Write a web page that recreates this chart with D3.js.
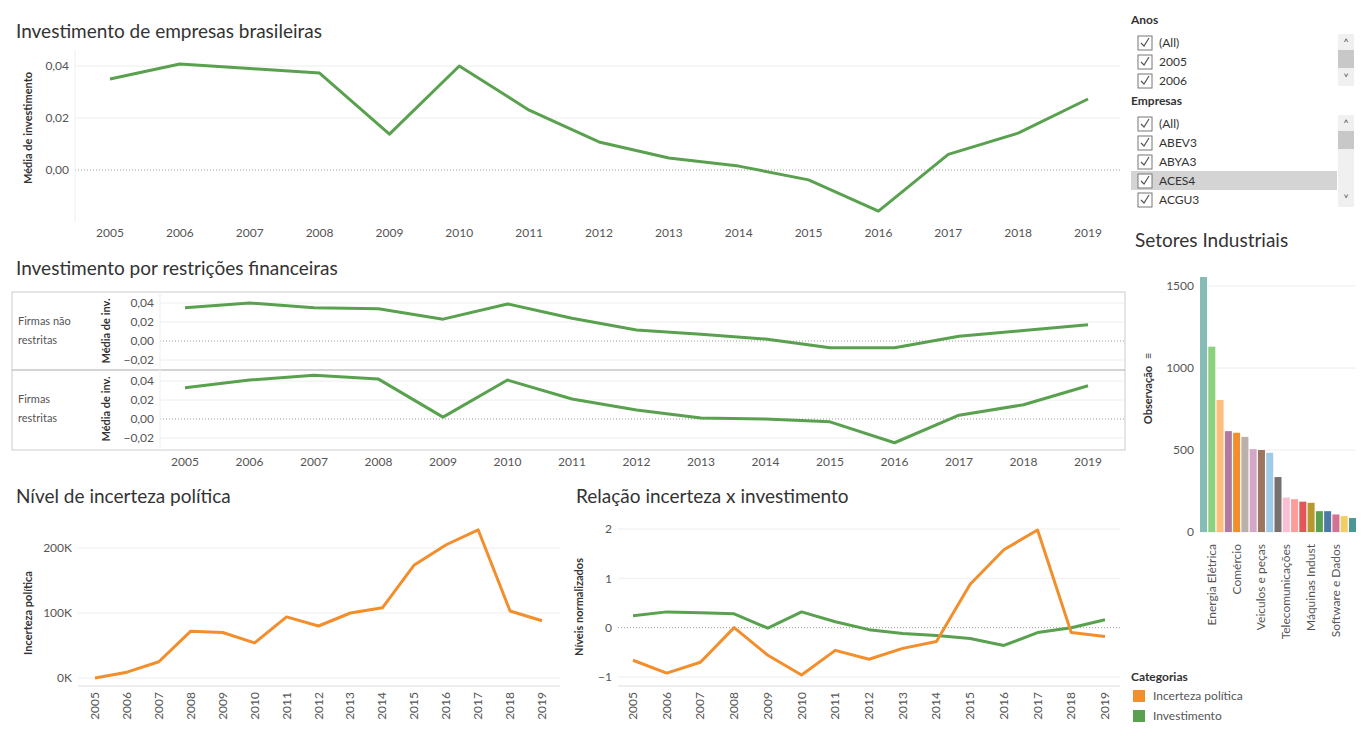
<!DOCTYPE html>
<html><head><meta charset="utf-8">
<script src="https://cdn.jsdelivr.net/npm/d3@7"></script>
<style>
body{margin:0;background:#fff;font-family:Lato,"Open Sans",sans-serif;}
text{fill:#555;}
</style></head><body>
<script>
var years = ["2005","2006","2007","2008","2009","2010","2011","2012","2013","2014","2015","2016","2017","2018","2019"];
var investimento = [0.035,0.0408,0.039,0.0373,0.0138,0.040,0.023,0.0108,0.0046,0.0015,-0.0038,-0.0158,0.006,0.0142,0.0273];
var naoRestritas = [0.035,0.040,0.035,0.034,0.023,0.039,0.024,0.0116,0.007,0.002,-0.007,-0.007,0.005,0.011,0.017];
var restritas = [0.033,0.041,0.046,0.042,0.002,0.041,0.021,0.0095,0.001,0,-0.003,-0.025,0.004,0.015,0.035];
var incerteza = [0,9000,25000,72000,70000,54000,94000,80000,100000,108000,174000,205000,228000,103000,88000];
var incertezaNorm = [-0.66,-0.92,-0.7,0,-0.56,-0.96,-0.46,-0.64,-0.42,-0.28,0.88,1.58,1.98,-0.1,-0.18];
var investNorm = [0.24,0.32,0.3,0.28,-0.01,0.32,0.12,-0.04,-0.12,-0.16,-0.22,-0.36,-0.1,0,0.16];
var setores = ["Outros","Energia Elétrica","Construção","Química","Comércio","Alimentos e Beb","Textil","Veiculos e peças","Siderur & Metalur","Transporte Serviç","Telecomunicações","Mineração","Papel e Celulose","Máquinas Indust","Petróleo e Gas","Eletroeletrônicos","Software e Dados","Agro e Pesca","Minerais não Met"];
var observacoes = [1555,1130,805,615,605,580,505,500,483,335,210,200,185,178,127,127,107,97,85];
var barColors = ["#86bcb6","#8cd17d","#ffbe7d","#b07aa1","#f28e2b","#bab0ac","#d4a6c8","#9d7660","#a0cbe8","#79706e","#fabfd2","#ff9d9a","#e15759","#b6992d","#59a14f","#4e79a7","#d37295","#f1ce63","#499894"];
var GREEN = "#59a14f", ORANGE = "#f28e2b";

var svg = d3.select("body").append("svg").attr("width",1366).attr("height",737)
  .style("font-family","Lato,'Open Sans',sans-serif");

function title(x, y, t, size){
  svg.append("text").attr("x",x).attr("y",y).text(t).style("font-size",(size||19)+"px").style("fill","#333");
}
function yTitle(x, y, t){
  svg.append("text").attr("transform",`translate(${x},${y}) rotate(-90)`).attr("text-anchor","middle")
    .text(t).style("font-size","11px").style("font-weight","bold").style("fill","#333");
}

// generic y axis + grid
function drawY(y, x0, x1, ticks, fmt, zeroDotted){
  var g = svg.append("g");
  ticks.forEach(function(t){
    g.append("line").attr("x1",x0).attr("x2",x1).attr("y1",y(t)).attr("y2",y(t))
      .attr("stroke", t===0 && zeroDotted ? "#999" : "#eee")
      .attr("stroke-dasharray", t===0 && zeroDotted ? "1,2" : null);
    g.append("text").attr("x",x0-6).attr("y",y(t)).attr("dy","0.35em").attr("text-anchor","end")
      .text(fmt(t)).style("font-size","12px");
  });
}
function line(x, y, vals, color){
  svg.append("path").datum(vals).attr("fill","none").attr("stroke",color).attr("stroke-width",3)
    .attr("stroke-linejoin","round")
    .attr("d", d3.line().x((d,i)=>x(years[i])).y(d=>y(d)));
}
var fmtBR = d => d3.format(".2f")(d).replace(".",",");

// ---------- Top chart
title(16,38,"Investimento de empresas brasileiras");
var x1 = d3.scalePoint().domain(years).range([110,1088]);
var y1 = d3.scaleLinear().domain([0,0.04]).range([170,66]);
drawY(y1, 75, 1120, [0,0.02,0.04], fmtBR, true);
svg.append("line").attr("x1",75).attr("x2",75).attr("y1",50).attr("y2",222).attr("stroke","#eee");
line(x1, y1, investimento, GREEN);
years.forEach(function(yr){
  svg.append("text").attr("x",x1(yr)).attr("y",237).attr("text-anchor","middle").text(yr).style("font-size","12px");
});
yTitle(32,128,"Média de investimento");

// ---------- Middle chart
title(16,275,"Investimento por restrições financeiras");
svg.append("rect").attr("x",12).attr("y",292).attr("width",1113).attr("height",158).attr("fill","none").attr("stroke","#ccc");
svg.append("line").attr("x1",12).attr("x2",1125).attr("y1",370).attr("y2",370).attr("stroke","#aaa");
var x2 = d3.scalePoint().domain(years).range([185,1088]);
[[341,naoRestritas,["Firmas não","restritas"]],[419,restritas,["Firmas","restritas"]]].forEach(function(p){
  var y = d3.scaleLinear().domain([0,0.02]).range([p[0],p[0]-19]);
  drawY(y, 160, 1125, [-0.02,0,0.02,0.04], fmtBR, true);
  line(x2, y, p[1], GREEN);
  svg.append("text").attr("x",18).attr("y",p[0]-16).text(p[2][0]).style("font-size","11px");
  svg.append("text").attr("x",18).attr("y",p[0]+3).text(p[2][1]).style("font-size","11px");
  yTitle(110,p[0]-10,"Média de inv.");
});
svg.append("line").attr("x1",160).attr("x2",160).attr("y1",292).attr("y2",450).attr("stroke","#eee");
years.forEach(function(yr){
  svg.append("text").attr("x",x2(yr)).attr("y",466).attr("text-anchor","middle").text(yr).style("font-size","12px");
});

// ---------- Bottom left
title(16,503,"Nível de incerteza política");
var x3 = d3.scalePoint().domain(years).range([95,542]);
var y3 = d3.scaleLinear().domain([0,200000]).range([678,548]);
drawY(y3, 78, 560, [0,100000,200000], d => (d/1000)+"K", false);
line(x3, y3, incerteza, ORANGE);
svg.append("line").attr("x1",78).attr("x2",560).attr("y1",686).attr("y2",686).attr("stroke","#ddd");
years.forEach(function(yr){
  svg.append("text").attr("transform",`translate(${x3(yr)+4},692) rotate(-90)`).attr("text-anchor","end").text(yr).style("font-size","12px");
});
yTitle(32,613,"Incerteza política");

// ---------- Bottom right
title(576,503,"Relação incerteza x investimento");
var x4 = d3.scalePoint().domain(years).range([633,1105]);
var y4 = d3.scaleLinear().domain([-1,2]).range([677,529]);
drawY(y4, 618, 1120, [-1,0,1,2], d => d3.format("d")(d), true);
line(x4, y4, investNorm, GREEN);
line(x4, y4, incertezaNorm, ORANGE);
svg.append("line").attr("x1",618).attr("x2",1120).attr("y1",686).attr("y2",686).attr("stroke","#ddd");
years.forEach(function(yr){
  svg.append("text").attr("transform",`translate(${x4(yr)+4},692) rotate(-90)`).attr("text-anchor","end").text(yr).style("font-size","12px");
});
yTitle(583,607,"Níveis normalizados");

// legend
svg.append("text").attr("x",1131).attr("y",681).text("Categorias").style("font-size","12px").style("font-weight","bold").style("fill","#333");
[["Incerteza política",ORANGE],["Investimento",GREEN]].forEach(function(d,i){
  svg.append("rect").attr("x",1133).attr("y",690+i*20).attr("width",12).attr("height",12).attr("fill",d[1]);
  svg.append("text").attr("x",1153).attr("y",700+i*20).text(d[0]).style("font-size","12px");
});

// ---------- Bar chart
title(1135,247,"Setores Industriais");
var xb = d3.scaleBand().domain(setores).range([1200,1356]).paddingInner(0.15);
var yb = d3.scaleLinear().domain([0,1500]).range([532,286]);
drawY(yb, 1200, 1356, [0,500,1000,1500], d => d, false);
svg.selectAll(".bar").data(setores).join("rect").attr("class","bar")
  .attr("x",d=>xb(d)).attr("width",xb.bandwidth())
  .attr("y",(d,i)=>yb(observacoes[i])).attr("height",(d,i)=>yb(0)-yb(observacoes[i]))
  .attr("fill",(d,i)=>barColors[i]);
setores.forEach(function(s,i){
  if(i%3!==1) return;
  svg.append("text").attr("transform",`translate(${xb(s)+xb.bandwidth()/2+4},544) rotate(-90)`)
    .attr("text-anchor","end").text(s).style("font-size","12px");
});
yTitle(1152,395,"Observação");
svg.append("text").attr("transform","translate(1152,356) rotate(-90)").attr("text-anchor","middle").text("≡").style("font-size","11px").style("fill","#333");

// ---------- Filters
function filterList(y0, label, items, selIdx, thumbY, h){
  svg.append("text").attr("x",1131).attr("y",y0).text(label).style("font-size","12px").style("font-weight","bold").style("fill","#333");
  svg.append("rect").attr("x",1338).attr("y",y0+10).attr("width",16).attr("height",h).attr("fill","#f0f0f0");
  svg.append("rect").attr("x",1338).attr("y",thumbY).attr("width",16).attr("height",18).attr("fill","#c8c8c8");
  svg.append("text").attr("x",1346).attr("y",y0+23).attr("text-anchor","middle").text("˄").style("font-size","11px");
  svg.append("text").attr("x",1346).attr("y",y0+h+6).attr("text-anchor","middle").text("˅").style("font-size","11px");
  items.forEach(function(it,i){
    var yy = y0+18+i*19;
    if(i===selIdx) svg.append("rect").attr("x",1131).attr("y",yy-9).attr("width",206).attr("height",19).attr("fill","#d4d4d4");
    svg.append("rect").attr("x",1138).attr("y",yy-6).attr("width",14).attr("height",14).attr("fill","#fff").attr("stroke","#777");
    svg.append("path").attr("d",`M${1141},${yy+1} l3,3 l5,-8`).attr("fill","none").attr("stroke","#555").attr("stroke-width",1.2);
    svg.append("text").attr("x",1159).attr("y",yy+5).text(it).style("font-size","12px").style("fill","#333");
  });
}
filterList(24,"Anos",["(All)","2005","2006"],-1,50,52);
filterList(105,"Empresas",["(All)","ABEV3","ABYA3","ACES4","ACGU3"],3,131,92);
</script>
</body></html>
